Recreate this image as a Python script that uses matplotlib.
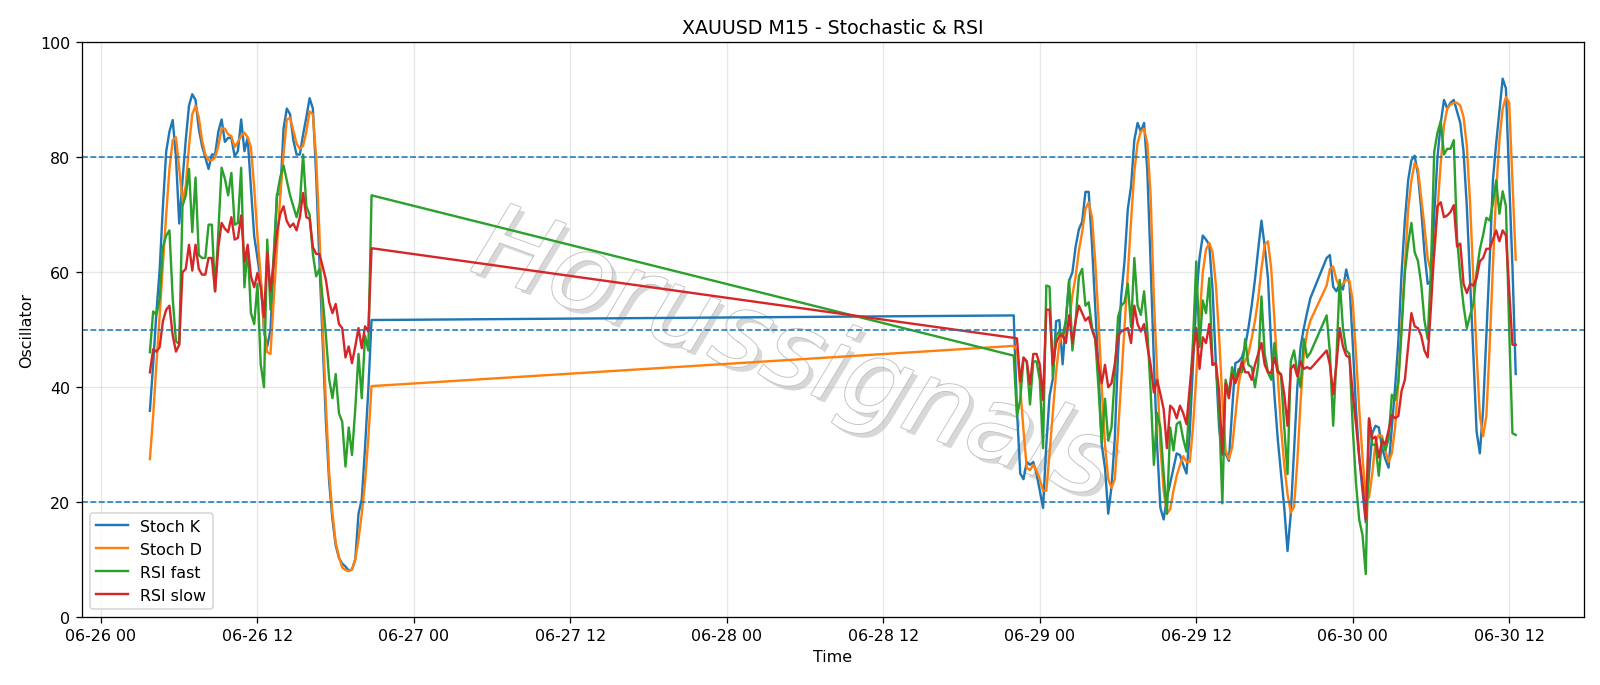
import matplotlib
matplotlib.use("Agg")
import matplotlib.pyplot as plt
import matplotlib.dates as mdates
import matplotlib.patheffects as pe
import pandas as pd

# bar times (M15), with the weekend gap and the daily 21:00-22:00 break
times = (list(pd.date_range("2020-06-26 03:45", "2020-06-26 20:45", freq="15min"))
         + list(pd.date_range("2020-06-28 22:00", "2020-06-29 20:45", freq="15min"))
         + list(pd.date_range("2020-06-29 22:00", "2020-06-30 12:30", freq="15min")))

stoch_k = [35.9, 44, 53, 60.5, 71.5, 81, 84.5, 86.5, 80, 68.5,
           76, 83, 89, 91, 90, 85, 82, 80, 78, 80.5,
           80.5, 84.5, 86.6, 82.7, 83.4, 83.4, 80.2, 81.1, 86.6, 81.1,
           83.4, 74.7, 66.3, 62.5, 58.7, 49.7, 47.1, 50, 62, 73.6,
           73.6, 85, 88.5, 87.5, 83, 80.5, 80.5, 84, 87, 90.3,
           88.5, 77, 62, 48, 34, 23.5, 17, 12.5, 10.3, 9.3,
           8.8, 8.1, 8.3, 10, 18, 20.5, 29.5, 39.5, 51.7,
           52.5, 36, 25, 24, 27, 26.5, 27, 25, 22, 19,
           30, 38.5, 41.5, 51.5, 51.7, 44, 51.5, 58.5, 60, 64.5,
           67.5, 68.8, 74, 74, 65, 54, 43, 30, 26, 18,
           22.7, 31, 45.8, 56, 62, 71, 75, 83, 86, 84.5,
           86, 77.5, 61.5, 44.5, 29.8, 19, 17, 20.8, 23.3, 25.9,
           28.5, 28.2, 26.5, 25, 32, 44, 55.4, 62.5, 66.4, 65.7,
           64.8, 57, 44.5, 33, 28.2, 28.5, 27.2, 36, 44.2, 44.5,
           45.2, 47.1, 50.3, 54.2, 58.7, 64, 69, 64.5, 59, 47,
           38.5, 31, 25, 19, 11.5, 18, 29, 40, 47, 50.3,
           53, 55.5,
           62.5, 63, 57.5, 56.7, 58, 57, 60.5, 58, 47.7, 36.2,
           27.8, 22, 16.5, 25, 32, 33.3, 33, 29.5, 27.5, 26,
           33, 40, 48, 60, 69, 76, 79.5, 80.3, 77, 71,
           63.5, 58, 58.5, 70, 80, 86, 90, 88.5, 89.5, 90,
           88, 86, 81, 71.5, 58.7, 45.8, 32.3, 28.5, 36.2, 49,
           61.9, 76, 82.4, 88, 93.7, 92, 76, 61, 42.3]

stoch_d = [27.5, 35, 44, 52.5, 61.5, 70, 78, 83, 83.5, 78,
           72.5, 75, 82, 87.5, 89, 87, 83, 80.5, 79.5, 79.5,
           80, 82, 85, 85, 84, 83.7, 81.8, 82.7, 83.7, 84.3,
           83.5, 81.8, 74.7, 66.3, 59.3, 50.3, 46.1, 45.8, 55.4, 64.4,
           73.4, 80.5, 86.6, 86.9, 84.7, 82.4, 81.5, 82, 84.5, 88,
           87.5, 80, 67, 51, 37, 25, 18, 13, 10.5, 8.6,
           8.2, 8, 8.3, 10, 13.5, 18, 23.5, 31, 40.2,
           47.2, 46.5, 40, 32.5, 26, 25.6, 26.5, 25.5, 24, 22,
           22, 28.5, 35.5, 42.6, 47.7, 49.3, 49, 51.6, 56, 59.3,
           63.8, 67, 71, 72.2, 69.6, 62, 52, 40, 30, 24,
           22.5, 24, 32, 41.3, 50.3, 60, 69, 77.5, 82.5, 84.5,
           85, 82.4, 73.4, 55.4, 42.6, 29.8, 22, 18, 18.8, 22,
           24.6, 26.5, 28, 27, 27, 33, 42, 52, 60, 64,
           65.1, 63.5, 58, 49, 38, 29, 27.5, 29.5, 35, 40.5,
           43.5, 44.5, 45.8, 48.5, 51.5, 55.4, 60.6, 64.8, 65.4, 60.6,
           51.6, 42, 33, 26.5, 21.4, 18.2, 19.2, 27, 37.5, 45.8,
           49.5, 51.6,
           57.7, 60.6, 61, 58.7, 57.5, 58, 58.7, 58.5, 55, 45.8,
           36.2, 27.8, 21, 20.8, 25, 30.5, 31.7, 31.5, 29, 27,
           28.5, 33, 41, 51, 61, 71, 76, 79, 78, 73,
           68, 62.5, 60, 63, 71, 79, 85.6, 88.5, 89.2, 89.5,
           89.5, 89, 87, 82, 72, 59, 46, 35, 31.5, 35,
           47, 61, 74, 83, 88.5, 90.5, 89.5, 76, 62.2]

rsi_fast = [46.1, 53.2, 52.6, 55.4, 64.4, 66.4, 67.3, 55.4, 48, 47.5,
            71.5, 73.4, 78, 67, 76.5, 63, 62.5, 62.5, 68.3, 68.3,
            56.7, 67, 78.2, 76.3, 73.4, 77.3, 68.3, 68.6, 78.2, 57.4,
            64.4, 52.9, 51, 58, 44, 40, 65.7, 53.5, 63.2, 73.4,
            76.6, 78.6, 76, 73.4, 71.5, 69.6, 72, 80.5, 71.5, 70,
            63.2, 59.3, 60.6, 55.4, 49, 41.4, 38.1, 42.3, 35.5, 34,
            26.2, 33, 28.2, 36.2, 45.8, 38.1, 49, 46.4, 73.4,
            45.5, 35, 37.8, 45, 44.5, 37, 44.5, 44.5, 41.3, 29.4,
            57.7, 57.5, 41.9, 49, 49.7, 49, 51.6, 58.7, 46.4, 51.6,
            59.3, 60.6, 54.2, 54.8, 50.5, 48.5, 40, 30.4, 38, 30.7,
            33, 42, 52.2, 54.2, 54.8, 58, 50.5, 62.5, 54.2, 52.6,
            56.7, 49.7, 39.4, 26.5, 35.5, 33, 25, 18, 33, 29,
            33.6, 34, 31, 28.8, 38, 48, 61.9, 47, 55.1, 52.9,
            59, 43.9, 44.2, 36.2, 19.8, 41.3, 38.8, 43.5, 41.3, 43.2,
            42.6, 48.4, 43.9, 43.5, 40, 43.9, 55.8, 45.8, 42.6, 41.3,
            47.7, 43, 42, 33, 24.9, 44.5, 46.4, 42.6, 40, 48.4,
            45.2, 46,
            52.5, 46, 33.3, 45, 58.7, 50.3, 46.4, 45.8, 33, 23.3,
            16.9, 14.3, 7.5, 34.5, 30, 30, 24.6, 31, 29, 31,
            38.7, 37.8, 41, 50, 60, 65, 68.6, 63.5, 62, 58,
            51.6, 48.4, 60.6, 81, 84.3, 86.3, 80.5, 81.5, 81.5, 83,
            66, 59.3, 54.2, 50.3, 52.5, 54.5, 60, 64, 66.5, 69.5,
            69, 72, 76, 70.2, 74.1, 71.5, 50, 32, 31.7]

rsi_slow = [42.6, 46.6, 46.2, 47, 51.5, 53.5, 54.2, 49, 46.2, 47.4,
            60, 60.6, 64.8, 60.3, 64.8, 60.6, 59.6, 59.6, 62.5, 62.5,
            56.7, 64.4, 68.6, 67.6, 67, 69.6, 65.7, 66, 69.9, 61.8,
            64.8, 59.3, 57.4, 59.9, 57.4, 52.2, 63.5, 56.7, 61.8, 67,
            70.2, 71.5, 68.9, 67.9, 68.5, 67.3, 69.6, 73.8, 69.6, 69.3,
            64.4, 63.2, 63.2, 61, 58.7, 54.8, 52.9, 54.5, 51, 50.3,
            45.2, 47.1, 44.2, 47.1, 50.3, 46.8, 50.6, 49.7, 64.2,
            48.6, 48.5, 41, 45.2, 44.5, 40.5, 45.8, 45.8, 43.9, 37.8,
            53.5, 53.5, 43.9, 47.7, 49, 49, 47.7, 52.5, 47.7, 51.6,
            54.2, 52.9, 51.6, 52.2, 50, 48.4, 43.9, 40.7, 43.9, 40,
            40.7, 44, 49, 49.7, 50, 50.3, 47.7, 54.2, 51, 49.7,
            51, 47.1, 43.9, 39.1, 41.3, 38.8, 36.2, 29.4, 36.8, 36.2,
            34.6, 36.8, 35.5, 33.6, 40, 45.8, 50.3, 43.2, 48.7, 47.7,
            51, 43.9, 44.2, 39.4, 28.5, 40.7, 38.1, 42.3, 40.7, 42.3,
            44.5, 42.6, 42.6, 41.3, 43.9, 45.8, 47.7, 43.9, 42.6, 42.5,
            45.2, 42.6, 42.3, 38.8, 33.3, 43.2, 43.9, 41.9, 44.5, 43.2,
            43.5, 43.2,
            46.4, 43.9, 38.8, 44, 50.3, 47.1, 45.5, 45.2, 38.8, 33.6,
            27.8, 23.3, 17, 34.6, 31, 31.4, 27.8, 30.7, 30.1, 32.5,
            35.2, 34.6, 35, 39.4, 41.3, 47.1, 52.9, 50.6, 50.3, 49,
            46.4, 45.2, 54, 63.8, 71.5, 72.2, 69.6, 69.9, 70.5, 71.7,
            64.5, 65, 58, 56.4, 58, 57.7, 59, 61.9, 62.5, 64.1,
            64.1, 65.7, 67.3, 65.4, 67.3, 66.4, 57, 47.4, 47.4]

levels = [20, 50, 80]

fig, ax = plt.subplots(figsize=(14, 6), dpi=1600 / 14)
fig.subplots_adjust(left=0.051, right=0.99, top=0.937, bottom=0.099)

# watermark, behind the lines
ax.text(0.496, 0.478, "Horussignals", transform=fig.transFigure,
        fontsize=66, color="white", style="italic", rotation=-20,
        ha="center", va="center", zorder=0.5,
        path_effects=[pe.SimplePatchShadow(offset=(3, -3), shadow_rgbFace="gray", alpha=0.3),
                      pe.Stroke(linewidth=1.2, foreground="#c4c4c4"),
                      pe.Normal()])

ax.plot(times, stoch_k, label="Stoch K")
ax.plot(times, stoch_d, label="Stoch D")
ax.plot(times, rsi_fast, label="RSI fast")
ax.plot(times, rsi_slow, label="RSI slow")
for lv in levels:
    ax.axhline(lv, color="tab:blue", linestyle="--", linewidth=1)

ax.set_ylim(0, 100)
ax.xaxis.set_major_locator(mdates.HourLocator(byhour=[0, 12]))
ax.xaxis.set_major_formatter(mdates.DateFormatter("%m-%d %H"))
ax.set_title("XAUUSD M15 - Stochastic & RSI")
ax.set_xlabel("Time")
ax.set_ylabel("Oscillator")
ax.grid(alpha=0.3)
ax.legend(loc="lower left")

fig.savefig("out.png")
